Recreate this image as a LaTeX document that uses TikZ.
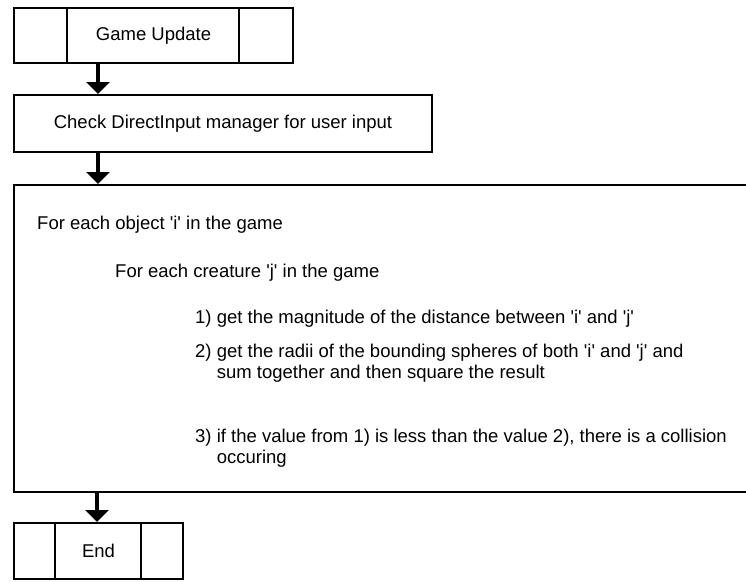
\documentclass[tikz,border=0pt]{standalone}
\usepackage{fontspec}
\setmainfont{Liberation Sans}
\usetikzlibrary{arrows.meta}
\newcommand{\sq}{\textquotesingle}
\begin{document}
\begin{tikzpicture}[x=1pt,y=-1pt,
  box/.style={draw=black, line width=2pt, inner sep=0pt, rectangle},
  divider/.style={draw=black, line width=2pt},
  arr/.style={line width=3.5pt, -{Triangle[length=12pt,width=23pt]}},
  txt/.style={inner sep=0pt, anchor=base west, font=\fontsize{18.5}{21}\selectfont, align=left}]
\clip (0,0) rectangle (746,581);
\fill[white] (0,0) rectangle (746,581);
% Game Update
\node[box, minimum width=279pt, minimum height=55pt, font=\fontsize{18.5}{21}\selectfont] (gu) at (153.5,35.5) {Game Update};
\draw[divider] ([xshift=54pt]gu.north west) -- ([xshift=54pt]gu.south west);
\draw[divider] ([xshift=-55pt]gu.north east) -- ([xshift=-55pt]gu.south east);
% Check
\node[box, minimum width=418pt, minimum height=57pt, font=\fontsize{18.5}{21}\selectfont] (chk) at (223,123.5) {Check DirectInput manager for user input};
% Big box
\node[box, minimum width=786pt, minimum height=307pt] (big) at (407,338.5) {};
% End
\node[box, minimum width=169pt, minimum height=56pt, font=\fontsize{18.5}{21}\selectfont] (end) at (98.5,551) {End};
\draw[divider] ([xshift=42pt]end.north west) -- ([xshift=42pt]end.south west);
\draw[divider] ([xshift=-43pt]end.north east) -- ([xshift=-43pt]end.south east);
% arrows
\draw[arr] ([xshift=85pt]gu.south west) -- ([xshift=85pt]chk.north west);
\draw[arr] ([xshift=85pt]chk.south west) -- ([xshift=85pt]big.north west);
\draw[arr] ([xshift=84pt]big.south west) -- ([xshift=84pt]end.north west);
% texts
\node[txt] (t1) at (37,229.5) {For each object \sq i\sq{} in the game};
\node[txt] (t2) at (115,277.5) {For each creature \sq j\sq{} in the game};
\node[txt] (t3) at (195,323.5) {1) get the magnitude of the distance between \sq i\sq{} and \sq j\sq};
\node[txt] (t4) at (195,378) {2) get the radii of the bounding spheres of both \sq i\sq{} and \sq j\sq{} and\\\hphantom{2) }sum together and then square the result};
\node[txt] (t5) at (195,463) {3) if the value from 1) is less than the value 2), there is a collision\\\hphantom{3) }occuring};
\end{tikzpicture}
\end{document}
